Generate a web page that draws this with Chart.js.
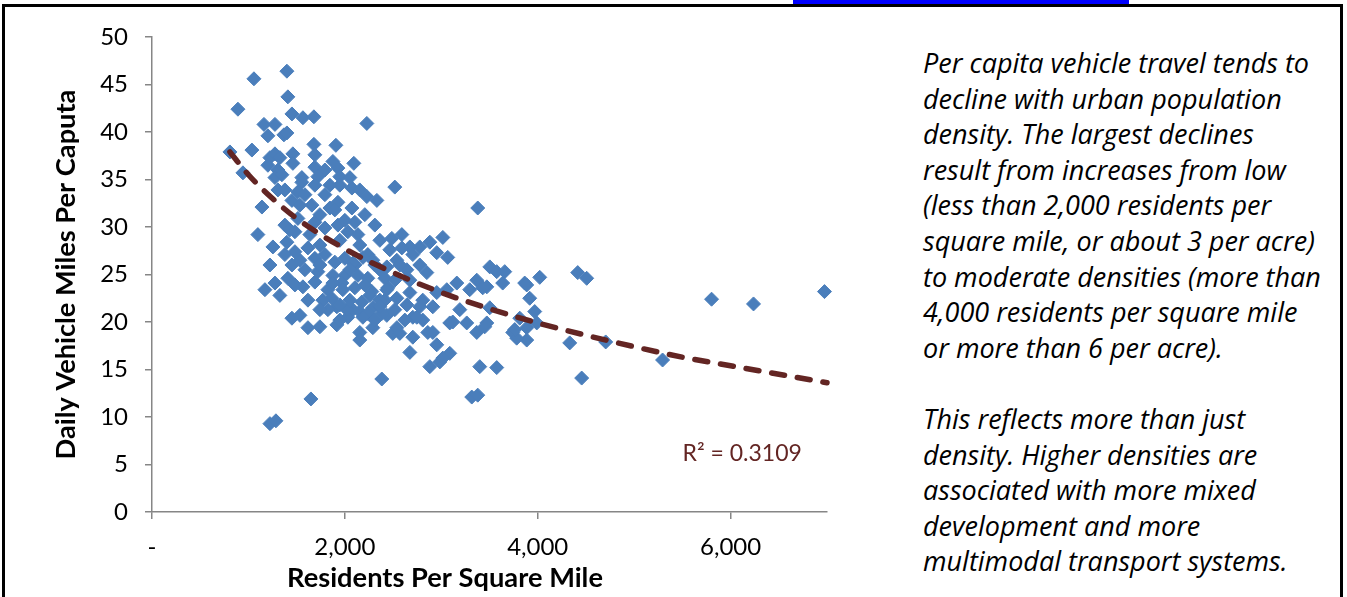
<!DOCTYPE html>
<html>
<head>
<meta charset="utf-8">
<script src="https://cdn.jsdelivr.net/npm/chart.js@4.4.1/dist/chart.umd.min.js"></script>
<style>
html,body{margin:0;padding:0;background:#fff;width:1347px;height:597px;overflow:hidden;position:relative;}
#frame{position:absolute;left:2px;top:4px;width:1341px;height:700px;border:3px solid #000;box-sizing:border-box;}
#link{position:absolute;left:793px;top:0;width:336px;height:4px;background:#0000ff;}
#chartWrap{position:absolute;left:0;top:0;width:880px;height:597px;}
#note{position:absolute;left:923px;top:45px;font-family:"Open Sans",Lato,sans-serif;font-style:italic;font-size:25px;line-height:35.6px;color:#000;white-space:nowrap;}
</style>
</head>
<body>
<div id="frame"></div>
<div id="link"></div>
<div id="chartWrap"><canvas id="c" width="880" height="597"></canvas></div>
<div id="note">Per capita vehicle travel tends to<br>decline with urban population<br>density. The largest declines<br>result from increases from low<br>(less than 2,000 residents per<br>square mile, or about 3 per acre)<br>to moderate densities (more than<br>4,000 residents per square mile<br>or more than 6 per acre).<br><br>This reflects more than just<br>density. Higher densities are<br>associated with more mixed<br>development and more<br>multimodal transport systems.</div>
<script>
// Residents per square mile (x) and daily vehicle miles per capita (y)
const density = [1399,1057,1409,891,1451,1565,1679,2228,1161,1275,1202,1368,1399,1679,1907,1036,808,1461,1689,1223,1275,1326,1202,1306,1461,1689,1793,1876,1928,2093,943,1554,1948,2518,1275,1347,1554,1720,2073,2228,2332,1140,1306,1451,1513,1658,1793,1845,1928,2073,1378,1513,1482,1689,1793,1928,2031,2135,2104,1098,1254,1399,1482,1617,1689,1793,1896,2000,2104,2238,2311,2487,1451,1586,1720,1876,2000,2135,2238,2415,1275,1409,1565,1689,1824,1969,2104,2280,2446,1617,1865,2176,2415,1451,1617,1741,1917,2031,2155,2155,2290,2497,2383,1648,1223,1285,1772,1917,2083,2290,2363,2435,2539,1824,2155,2238,2383,3378,1948,2591,3016,2881,2777,2674,2591,2705,3067,2953,3503,3575,3658,3637,3865,4021,3161,3368,3472,3295,2850,2643,2539,2435,2290,2187,2083,2674,2808,2953,3057,3192,3088,3503,3472,3741,3886,3917,3969,3990,4332,4456,4415,4508,3886,3368,3264,2860,2881,2985,3088,2953,2674,2570,3399,3575,3316,3378,1876,1979,2259,2435,2539,2363,2705,2777,2187,2021,1948,3782,3451,3119,3016,2705,2912,2808,2746,2912,2643,3430,3886,3814,3762,4705,5295,5803,6238,6974,
  1378,1534,1741,1896,2000,2207,2311,1637,1741,1948,2155,2363,2466,1534,1378,1223,1171,1326,1482,1741,2052,2207,2363,2518,2570,2674,2777,2052,1741,1534,1948,2311,2518,2622,1430,1586,1689,1845,2052,2155];
const vmt = [46.4,45.6,43.7,42.4,41.9,41.5,41.6,40.9,40.8,40.8,39.6,39.7,39.9,38.7,38.6,38.1,37.9,37.7,37.6,37.3,37.7,37.3,36.5,36.0,36.7,36.3,36.0,36.9,36.2,36.7,35.7,35.2,35.3,34.2,35.2,35.5,34.7,35.3,34.1,33.2,32.8,32.1,33.9,32.8,33.7,32.3,33.4,32.0,32.6,32.0,30.2,30.9,29.5,30.5,29.9,30.2,29.5,29.2,30.5,29.2,27.9,28.4,27.4,27.8,26.7,27.1,26.3,26.7,26.0,27.1,26.0,28.8,26.0,25.5,25.3,24.9,24.9,24.9,24.6,24.6,24.1,24.6,23.7,24.2,23.4,24.1,23.6,23.2,23.6,22.3,22.5,22.1,22.3,20.4,19.4,19.5,19.7,20.5,18.9,18.1,19.4,18.8,14.0,11.9,9.3,9.6,22.3,21.6,21.3,21.5,22.3,20.7,19.4,21.3,21.1,20.9,20.9,32.0,34.4,29.2,28.9,28.4,27.9,27.9,27.8,27.1,26.8,27.3,25.8,25.3,25.3,24.1,24.1,24.7,24.1,24.4,23.7,23.4,25.2,25.5,26.5,25.8,26.5,26.8,26.2,23.1,22.3,23.1,23.4,21.3,19.9,21.5,19.9,18.9,18.1,22.5,21.1,19.9,17.8,14.1,25.2,24.6,19.4,18.9,19.9,18.9,15.3,15.8,16.7,17.6,16.8,18.8,15.3,15.2,12.1,12.3,24.1,23.4,22.8,23.4,22.5,21.6,20.5,21.6,20.5,21.3,20.2,18.3,19.5,20.0,16.2,18.4,18.9,20.2,20.5,21.6,21.8,23.6,23.9,20.4,19.2,17.9,16.0,22.4,21.9,23.2,
  33.9,32.3,31.3,31.8,30.7,31.3,30.2,29.2,28.1,28.6,28.1,28.6,27.6,26.5,27.1,26.0,23.4,22.8,23.9,26.0,25.5,23.9,25.5,24.4,26.0,24.4,26.0,22.3,21.3,20.7,21.8,20.2,21.3,20.2,29.7,33.4,34.4,34.4,35.2,33.9];
// Trendline
const trendDensity = [808,1000,1250,1500,2000,2500,3000,3500,4000,4500,5000,5500,6000,6500,7000];
const trendVmt = [37.9,35.5,33.0,30.9,27.7,25.2,23.1,21.4,19.9,18.6,17.4,16.3,15.4,14.5,13.6];
const xTickValues = [0,2000,4000,6000];
const xTickLabels = ['-','2,000','4,000','6,000'];
const yTickValues = [0,5,10,15,20,25,30,35,40,45,50];
const rSquaredText = 'R² = 0.3109';
const xTitle = 'Residents Per Square Mile';
const yTitle = 'Daily Vehicle Miles Per Caputa';

const FONT = 'Lato, "Open Sans", sans-serif';
const AXIS = '#868686';

// fit font sizes to the widths seen in the reference
const mctx = document.createElement('canvas').getContext('2d');
function fitSize(text, style, family, target){
  mctx.font = style + ' 20px ' + family;
  return 20 * target / mctx.measureText(text).width;
}
const xTitleSize = fitSize(xTitle, 'bold', FONT, 316);
const yTitleSize = fitSize(yTitle, 'bold', FONT, 370);
const noteEl = document.getElementById('note');
noteEl.style.fontSize = fitSize('Per capita vehicle travel tends to', 'italic', '"Open Sans", Lato, sans-serif', 386).toFixed(2) + 'px';

const scatterPts = density.map((x,i)=>({x:x,y:vmt[i]}));
const trendPts = trendDensity.map((x,i)=>({x:x,y:trendVmt[i]}));

const extras = {
  id:'extras',
  afterDraw(chart){
    const ctx = chart.ctx;
    ctx.save();
    ctx.fillStyle = '#000';
    ctx.font = 'bold ' + xTitleSize.toFixed(2) + 'px ' + FONT;
    ctx.textAlign = 'center';
    ctx.textBaseline = 'middle';
    ctx.fillText(xTitle, 445, 578);
    const xs = chart.scales.x, ys = chart.scales.y;
    ctx.fillStyle = '#632523';
    ctx.font = '23px ' + FONT;
    ctx.fillText(rSquaredText, xs.getPixelForValue(6120), ys.getPixelForValue(6.2));
    ctx.restore();
  }
};

new Chart(document.getElementById('c'), {
  type:'scatter',
  data:{datasets:[
    {label:'Trend', data:trendPts, showLine:true, borderColor:'#632523', borderWidth:5.5, borderDash:[13,13], borderCapStyle:'round', pointRadius:0, cubicInterpolationMode:'monotone', order:0, clip:false},
    {label:'Cities', data:scatterPts, pointStyle:'rectRot', pointRadius:7, pointBorderWidth:1, backgroundColor:'#4A7EBB', borderColor:'#4A7EBB', order:1, clip:false}
  ]},
  options:{
    responsive:false, animation:false, events:[],
    layout:{padding:{top:37,right:53,left:0,bottom:0}},
    plugins:{legend:{display:false}, tooltip:{enabled:false}},
    scales:{
      x:{type:'linear', min:0, max:7000,
        afterBuildTicks:(s)=>{s.ticks = xTickValues.map(v=>({value:v}));},
        afterFit:(s)=>{s.height = 85;},
        ticks:{callback:(v)=>{const i=xTickValues.indexOf(v); return i>=0?xTickLabels[i]:'';}, font:{family:FONT,size:24}, color:'#000', padding:14, maxRotation:0, autoSkip:false},
        grid:{display:true, drawOnChartArea:false, drawTicks:true, tickLength:7, color:AXIS, lineWidth:1.5},
        border:{display:true, color:AXIS, width:1.5}
      },
      y:{type:'linear', min:0, max:50,
        afterBuildTicks:(s)=>{s.ticks = yTickValues.map(v=>({value:v}));},
        afterFit:(s)=>{s.width = 152;},
        ticks:{font:{family:FONT,size:24}, color:'#000', padding:17, autoSkip:false},
        grid:{display:true, drawOnChartArea:false, drawTicks:true, tickLength:7, color:AXIS, lineWidth:1.5},
        border:{display:true, color:AXIS, width:1.5},
        title:{display:true, text:yTitle, font:{family:FONT,size:yTitleSize,weight:'bold'}, color:'#000', padding:{top:66 - yTitleSize*0.6,bottom:0}}
      }
    }
  },
  plugins:[extras]
});
</script>
</body>
</html>
